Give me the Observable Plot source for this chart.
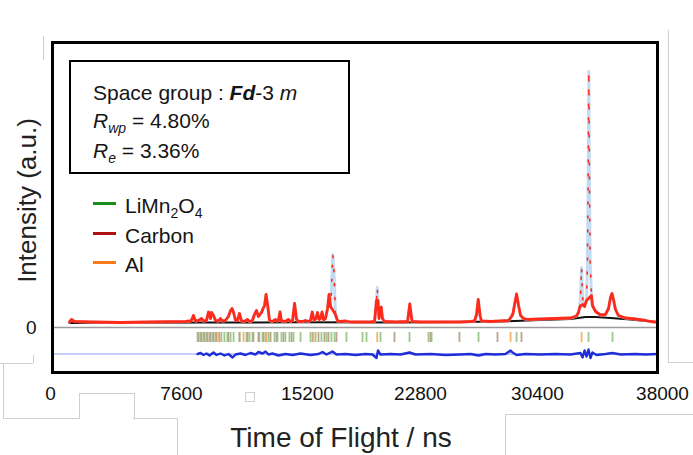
<!DOCTYPE html>
<html><head><meta charset="utf-8">
<script src="https://cdn.jsdelivr.net/npm/d3@7"></script>
<script src="https://cdn.jsdelivr.net/npm/@observablehq/plot@0.6"></script>
<style>
body{margin:0;background:#fff;font-family:"Liberation Sans",Arial,sans-serif;color:#111}
#wrap{position:relative;width:693px;height:455px;overflow:hidden}
#wrap svg{position:absolute;left:0;top:0}
.ov{position:absolute;white-space:nowrap;font-size:21px;line-height:21px;color:#151515}
#info{position:absolute;left:69px;top:60px;width:277px;height:110px;border:2px solid #000;background:#fff}
.leg{position:absolute;left:93px;width:23px;height:3px}
sub{font-size:14px;vertical-align:-5px;line-height:0}
.g{position:absolute;border-color:#cfcfcf;border-style:solid;border-width:0}
</style></head><body><div id="wrap"></div>
<script>
// ---------- data ----------
const tofTicks = [0, 7600, 15200, 22800, 30400, 38000];

// observed / fitted profile: time of flight (ns) and intensity (a.u.)
const obsTof = [1100,1220,1390,2320,4060,5800,7840,8140,8200,8320,8440,8630,8810,8930,9110,9230,9350,9410,9530,9650,9830,9950,10070,10250,10430,10560,10650,10740,10860,10980,11100,11220,11400,11580,11700,11880,12000,12120,12240,12430,12520,12610,12700,12790,12910,13090,13270,13390,13450,13540,13630,13870,14050,14170,14300,14420,14540,14660,14900,15080,15270,15400,15520,15640,15770,15870,15970,16070,16180,16280,16410,16550,16650,16750,16810,16900,16980,17080,17220,17420,17760,18090,18770,19440,19710,19840,19890,19940,20010,20160,20240,20380,21120,21930,22080,22230,22800,24100,25400,26050,26310,26440,26550,26670,26760,27350,28000,28520,28710,28810,28910,29040,29170,29300,29490,29750,30580,31490,32410,32770,32890,32980,33030,33080,33120,33170,33260,33380,33440,33480,33520,33560,33600,33680,33740,33930,34230,34530,34720,34840,34930,35020,35140,35320,35750,36360,36970,37270,37570];
const obsInt = [55,80,60,55,50,55,60,65,70,120,65,70,90,65,70,155,90,150,120,70,65,90,65,70,110,170,190,150,70,70,140,65,60,80,60,70,130,170,110,150,190,220,330,230,70,60,80,65,70,155,65,60,80,60,70,240,80,60,60,70,60,70,155,70,90,150,80,90,155,75,90,190,330,210,370,730,570,130,65,60,65,55,55,55,60,270,400,270,90,205,90,60,55,60,235,60,55,55,55,60,65,130,280,120,65,60,65,70,110,140,230,335,220,120,90,80,85,90,95,115,150,210,370,600,370,230,210,270,670,1470,2560,1470,670,320,220,160,125,130,190,300,340,280,180,120,95,85,70,60,55];

// background curve
const bgTof = [1100,8750,14780,21460,28000,30580,32410,33320,33930,34840,36050,37570];
const bgInt = [45,50,52,50,60,75,85,105,105,95,80,55];

// difference curve (obs - calc)
const diffTof = [8570,8750,8930,9110,9290,9530,9710,9950,10190,10430,10680,10860,11160,11460,11760,12060,12240,12490,12670,12850,13090,13450,13870,14300,14780,15400,15940,16210,16480,16880,17150,17760,18430,19100,19570,19840,19940,20110,20780,21460,22060,22460,23450,24420,25400,26050,26570,27020,27670,28320,28650,28780,29040,29620,30580,31490,32410,33010,33140,33260,33380,33500,33620,33740,33990,34530,34960,35450,36360,36970,37700];
const diffVal = [0,10,-10,5,-15,15,-10,5,-15,0,-35,-5,5,-10,10,-5,20,5,25,-5,5,-15,0,-10,5,-10,0,20,-5,25,-5,0,-10,0,-5,-40,35,-5,0,-5,15,-5,0,-10,-5,0,-15,0,-5,0,35,15,-10,0,-5,0,-5,10,-35,35,-25,45,-40,15,-10,0,10,-5,0,-5,0];

// Bragg reflection positions per phase
const phaseNames = ["LiMn2O4", "Carbon", "Al"];
const limnTof = [8570,8750,8930,9110,9290,9470,9650,10010,10190,10370,10560,10740,11100,11520,11700,11880,12300,12490,12670,12850,13210,13390,13630,13870,14110,14360,14780,15400,15740,16140,16480,16810,17020,17820,18900,19170,20110,22060,23320,23520,26570,29040,33500,34960];
const carbonTof = [8630,8810,8990,9170,9350,9530,9710,9890,10430,11100,11580,11940,12240,12550,12970,13330,13750,14240,15540,15940,16340,16610,17150,21050,23450,25330,27800,29360];
const alTof = [9830,11340,12730,15600,19890,28650,33080];

// ---------- build ----------
const obs = obsTof.map((t, i) => ({tof: t, I: obsInt[i]}));
const bg = bgTof.map((t, i) => ({tof: t, I: bgInt[i]}));
const diff = diffTof.map((t, i) => ({tof: t, v: diffVal[i]}));
const refl = [
  ...limnTof.map(t => ({tof: t, phase: phaseNames[0]})),
  ...carbonTof.map(t => ({tof: t, phase: phaseNames[1]})),
  ...alTof.map(t => ({tof: t, phase: phaseNames[2]}))
];
const diffOffset = -265;
const tickTop = -50, tickBottom = -150;

const chart = Plot.plot({
  width: 693, height: 455,
  marginTop: 42, marginBottom: 83, marginLeft: 52, marginRight: 36,
  style: {fontFamily: "Liberation Sans, Arial, sans-serif", fontSize: "19px", color: "#111", background: "transparent"},
  x: {type: "linear", domain: tofTicks, range: [50, 181, 307, 420, 537, 662]},
  y: {domain: [-450, 2850]},
  color: {domain: phaseNames, range: ["#9cc98c", "#b9a58c", "#f2b46a"]},
  marks: [
    Plot.ruleY([0], {stroke: "#9a9a9a", strokeWidth: 1.5}),
    Plot.ruleY([diffOffset], {stroke: "#8f9cf5", strokeWidth: 1}),
    Plot.line(diff, {x: "tof", y: d => d.v + diffOffset, stroke: "#1f2fd8", strokeWidth: 2.4}),
    Plot.ruleX(refl, {x: "tof", y1: tickTop, y2: tickBottom, stroke: "phase", strokeWidth: 1.8}),
    Plot.line(bg, {x: "tof", y: "I", stroke: "#111", strokeWidth: 2}),
    Plot.line(obs, {x: "tof", y: "I", stroke: "#c4dcf2", strokeWidth: 3}),
    Plot.line(obs, {x: "tof", y: "I", stroke: "#ff2a1a", strokeWidth: 1.6, strokeDasharray: "2,12"}),
    Plot.line(obs, {x: "tof", y: "I", filter: d => d.I < 370, stroke: "#ff2a1a", strokeWidth: 2.8}),
    Plot.frame({stroke: "#000", strokeWidth: 3}),
    Plot.axisX({ticks: tofTicks, tickSize: 0, tickPadding: 14, tickFormat: d => String(d), label: null, fontSize: 19}),
    Plot.axisY({ticks: [0], tickSize: 0, tickPadding: 16, label: null, fontSize: 19}),
    Plot.text(["Time of Flight / ns"], {frameAnchor: "bottom", dx: -14, dy: 74, fontSize: 28, fill: "#222"}),
    Plot.text(["Intensity (a.u.)"], {frameAnchor: "left", textAnchor: "middle", dx: -25, dy: -7, rotate: -90, fontSize: 26, fill: "#222"})
  ]
});
const wrap = document.getElementById("wrap");

// faint outlines of neighbouring page elements
const outlines = [
  {l: 668, t: 30, w: 0, h: 332, b: "0 0 0 1px"},
  {l: 668, t: 362, w: 25, h: 0, b: "1px 0 0 0"},
  {l: 0, t: 363, w: 33, h: 0, b: "1px 0 0 0"},
  {l: 33, t: 355, w: 0, h: 8, b: "0 0 0 1px"},
  {l: 3, t: 363, w: 76, h: 55, b: "0 0 1px 1px"},
  {l: 79, t: 393, w: 54, h: 25, b: "1px 1px 0 1px"},
  {l: 133, t: 418, w: 44, h: 40, b: "1px 1px 0 0"},
  {l: 505, t: 414, w: 200, h: 50, b: "1px 0 0 1px"},
  {l: 245, t: 392, w: 8, h: 8, b: "1px"},
  {l: 43, t: 36, w: 0, h: 24, b: "0 0 0 1px"}
];
for (const o of outlines) {
  const d = document.createElement("div");
  d.className = "g";
  Object.assign(d.style, {left: o.l + "px", top: o.t + "px", width: o.w + "px", height: o.h + "px", borderWidth: o.b});
  wrap.appendChild(d);
}
wrap.appendChild(chart);

const info = document.createElement("div");
info.id = "info";
wrap.appendChild(info);
const lines = [
  {top: 82, html: 'Space group : <i style="font-weight:bold">Fd</i>-3<i> m</i>'},
  {top: 110, html: '<i>R</i><sub><i>wp</i></sub> = 4.80%'},
  {top: 140, html: '<i>R</i><sub><i>e</i></sub> = 3.36%'}
];
for (const l of lines) {
  const d = document.createElement("div");
  d.className = "ov"; d.style.left = "93px"; d.style.top = l.top + "px"; d.innerHTML = l.html;
  wrap.appendChild(d);
}
const legColors = ["#1a8c1a", "#b01212", "#ff7a1a"];
const legLabels = ['LiMn<sub>2</sub>O<sub>4</sub>', 'Carbon', 'Al'];
const legTops = [195, 225, 254];
legLabels.forEach((lab, i) => {
  const sw = document.createElement("div");
  sw.className = "leg"; sw.style.top = (legTops[i] + 7) + "px"; sw.style.background = legColors[i];
  wrap.appendChild(sw);
  const t = document.createElement("div");
  t.className = "ov"; t.style.left = "125px"; t.style.top = legTops[i] + "px"; t.innerHTML = lab;
  wrap.appendChild(t);
});
</script></body></html>
